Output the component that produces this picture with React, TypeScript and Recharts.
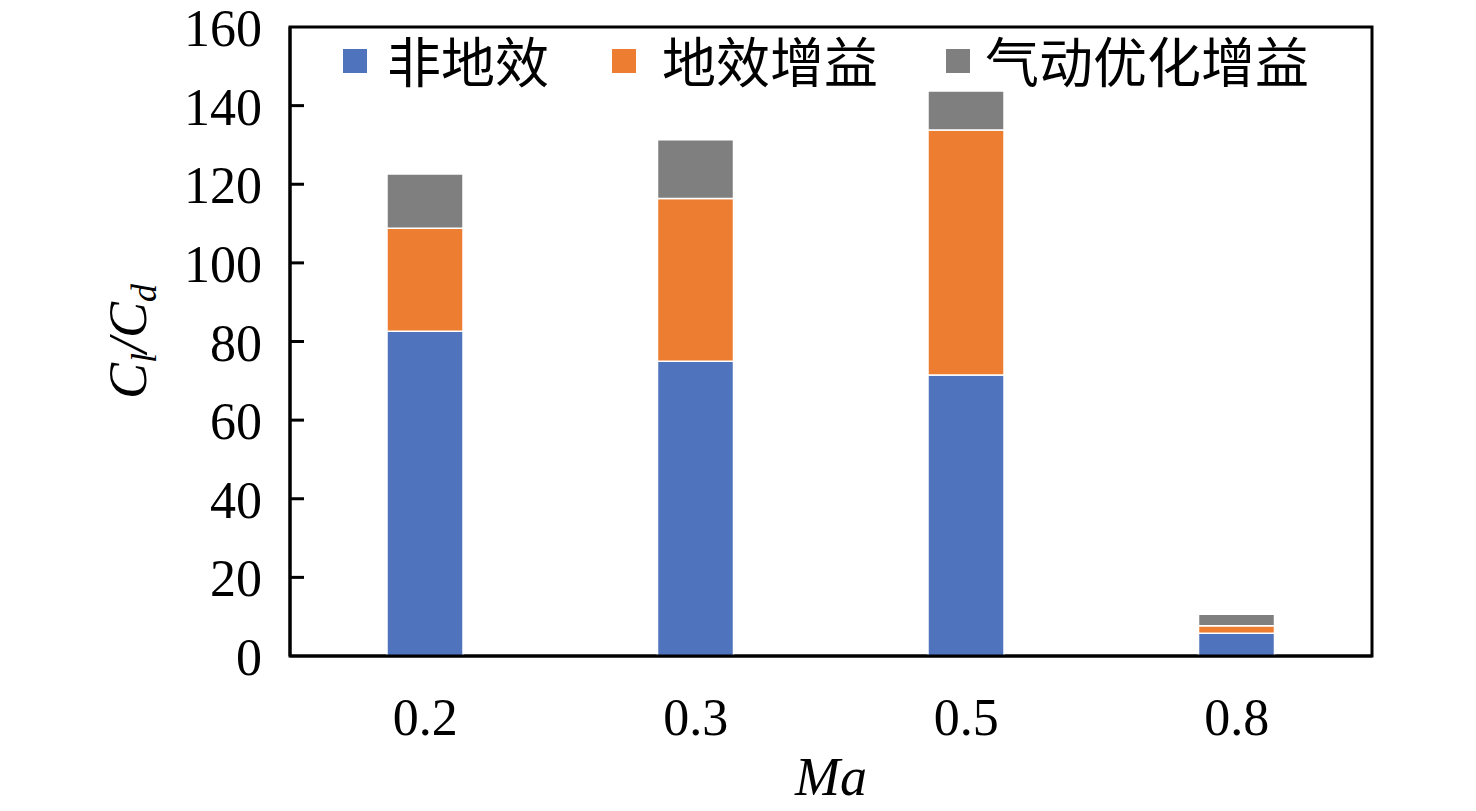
import { BarChart, Bar, XAxis, YAxis, Legend, ReferenceArea } from 'recharts';

// Ma 数
const machNumbers = ['0.2', '0.3', '0.5', '0.8'];
// 各部分升阻比
const nonGroundEffect = [82.6, 75.0, 71.5, 5.8];
const groundEffectGain = [26.2, 41.4, 62.3, 1.9];
const aeroOptGain = [13.8, 14.9, 9.9, 2.9];
const yTicks = [0, 20, 40, 60, 80, 100, 120, 140, 160];

const seriesNames = ['非地效', '地效增益', '气动优化增益'];
const seriesColors = ['#4F73BD', '#ED7D31', '#7F7F7F'];

const data = machNumbers.map((ma, i) => ({
  ma,
  s0: nonGroundEffect[i],
  s1: groundEffectGain[i],
  s2: aeroOptGain[i],
}));

const serif = '"Liberation Serif", "DejaVu Serif", serif';
const cjk = '"Noto Sans CJK SC", sans-serif';

const YTick = ({ x, y, payload }: any) => {
  const v = Number(payload.value);
  const inner = v > 0 && v < 160;
  return (
    <g>
      {inner && <path d={`M${x},${y}h14`} stroke="#000" strokeWidth={3} fill="none" />}
      <text x={x - 28} y={y + 19} textAnchor="end" fontFamily={serif} fontSize={52} fill="#000">
        {v}
      </text>
    </g>
  );
};

const XTick = ({ x, y, payload }: any) => (
  <text x={x} y={y + 79} textAnchor="middle" fontFamily={serif} fontSize={52} fill="#000">
    {payload.value}
  </text>
);

const YTitle = ({ viewBox }: any) => {
  const cx = viewBox.x - 44;
  const cy = viewBox.y + viewBox.height / 2;
  return (
    <text
      x={cx}
      y={cy}
      transform={`rotate(-90, ${cx}, ${cy})`}
      textAnchor="middle"
      fontFamily={serif}
      fontStyle="italic"
      fontSize={54}
      fill="#000"
    >
      <tspan>C</tspan>
      <tspan fontSize={36} dy={10}>l</tspan>
      <tspan dy={-10}>/C</tspan>
      <tspan fontSize={36} dy={10}>d</tspan>
    </text>
  );
};

const XTitle = ({ viewBox }: any) => (
  <text
    x={viewBox.x + viewBox.width / 2}
    y={viewBox.y + 139}
    textAnchor="middle"
    fontFamily={serif}
    fontStyle="italic"
    fontSize={54}
    fill="#000"
  >
    Ma
  </text>
);

const legendPos = [
  { box: 343, text: 387 },
  { box: 612, text: 662 },
  { box: 946, text: 985 },
];

const LegendContent = () => (
  <div style={{ position: 'relative', width: 0, height: 0 }}>
    {seriesNames.map((name, i) => (
      <div key={name}>
        <div
          style={{
            position: 'absolute',
            left: legendPos[i].box,
            top: 49,
            width: 24,
            height: 24,
            background: seriesColors[i],
          }}
        />
        <div
          style={{
            position: 'absolute',
            left: legendPos[i].text,
            top: 33,
            fontFamily: cjk,
            fontSize: 54,
            lineHeight: '54px',
            whiteSpace: 'nowrap',
            color: '#000',
          }}
        >
          {name}
        </div>
      </div>
    ))}
  </div>
);

export default function App() {
  return (
    <div style={{ position: 'absolute', left: 0, top: 0, background: '#fff' }}>
      <BarChart
        width={1476}
        height={811}
        data={data}
        margin={{ top: 27, right: 104, bottom: 95, left: 190 }}
        barSize={76}
      >
        <XAxis
          dataKey="ma"
          height={60}
          axisLine={{ stroke: '#000', strokeWidth: 3 }}
          tickLine={false}
          tickSize={0}
          tickMargin={0}
          tick={<XTick />}
          label={<XTitle />}
        />
        <YAxis
          width={100}
          domain={[0, 160]}
          ticks={yTicks}
          interval={0}
          axisLine={{ stroke: '#000', strokeWidth: 3 }}
          tickLine={false}
          tickSize={0}
          tickMargin={0}
          tick={<YTick />}
          label={<YTitle />}
        />
        <Legend
          verticalAlign="middle"
          layout="horizontal"
          align="center"
          wrapperStyle={{ top: 0, left: 0, width: 0, height: 0 }}
          content={<LegendContent />}
        />
        {['s0', 's1', 's2'].map((key, i) => (
          <Bar
            key={key}
            dataKey={key}
            name={seriesNames[i]}
            stackId="a"
            fill={seriesColors[i]}
            stroke="#fff"
            strokeWidth={1.5}
            isAnimationActive={false}
          />
        ))}
        <ReferenceArea
          x1={machNumbers[0]}
          x2={machNumbers[machNumbers.length - 1]}
          y1={yTicks[0]}
          y2={yTicks[yTicks.length - 1]}
          fill="none"
          fillOpacity={0}
          stroke="#000"
          strokeWidth={3}
          ifOverflow="visible"
        />
      </BarChart>
    </div>
  );
}
